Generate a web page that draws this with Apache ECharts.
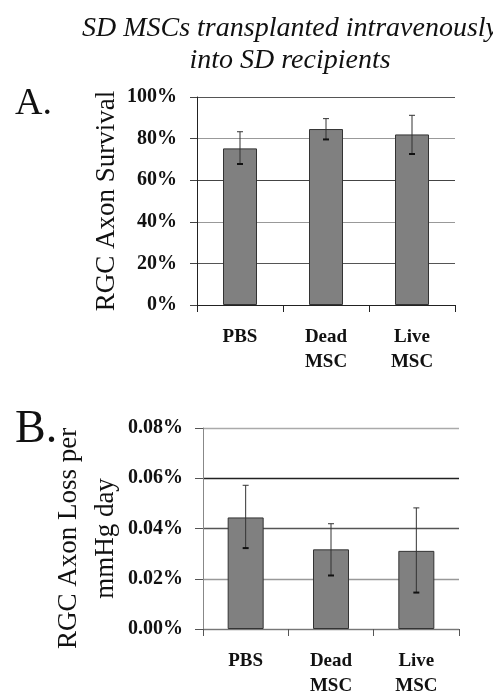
<!DOCTYPE html>
<html>
<head>
<meta charset="utf-8">
<style>
  html, body { margin: 0; padding: 0; background: #fff; }
  #chart { width: 493px; height: 699px; }
</style>
<script src="https://cdn.jsdelivr.net/npm/echarts@6/dist/echarts.min.js"></script>
</head>
<body>
<div id="chart"></div>
<script>
// ---- Data ----
const categories = ['PBS', 'Dead\nMSC', 'Live\nMSC'];
// Panel A: RGC axon survival (%)
const survivalMean = [75.3, 84.6, 82.0];
const survivalLow  = [67.8, 79.6, 72.6];
const survivalHigh = [83.3, 89.6, 91.2];
const survivalTicks = [0, 20, 40, 60, 80, 100];
// Panel B: RGC axon loss per mmHg day (%)
const lossMean = [0.0444, 0.0317, 0.0311];
const lossLow  = [0.0322, 0.0213, 0.0145];
const lossHigh = [0.0572, 0.0419, 0.0482];
const lossTicks = [0, 0.02, 0.04, 0.06, 0.08];

const titleLines = ['SD MSCs transplanted intravenously', 'into SD recipients'];
const panelLabels = ['A.', 'B.'];
const yNameA = 'RGC Axon Survival';
const yNameB = 'RGC Axon Loss per\nmmHg day';

const SERIF = 'Liberation Serif';

function errorSeries(idx, low, high) {
  return {
    type: 'custom',
    xAxisIndex: idx, yAxisIndex: idx,
    z: 5,
    data: categories.map((c, i) => [i, low[i], high[i]]),
    encode: { x: 0, y: [1, 2] },
    renderItem: function (params, api) {
      const x = api.value(0);
      const lo = api.coord([x, api.value(1)]);
      const hi = api.coord([x, api.value(2)]);
      const cap = 3;
      const style = { stroke: '#333', lineWidth: 1 };
      return {
        type: 'group',
        children: [
          { type: 'line', shape: { x1: lo[0], y1: lo[1], x2: hi[0], y2: hi[1] }, style: style },
          { type: 'line', shape: { x1: hi[0] - cap, y1: hi[1], x2: hi[0] + cap, y2: hi[1] }, style: style },
          { type: 'line', shape: { x1: lo[0] - cap, y1: lo[1], x2: lo[0] + cap, y2: lo[1] }, style: { stroke: '#111', lineWidth: 2 } }
        ]
      };
    }
  };
}

const chart = echarts.init(document.getElementById('chart'), null, { renderer: 'canvas' });

const xAxisCommon = {
  type: 'category',
  data: categories,
  boundaryGap: true,
  axisTick: { show: true, alignWithLabel: false, length: 7, inside: false, lineStyle: { color: '#222' } },
  axisLabel: {
    fontFamily: SERIF, fontWeight: 'bold', fontSize: 19, color: '#111',
    lineHeight: 25, margin: 20, interval: 0
  },
  splitLine: { show: false }
};

const option = {
  backgroundColor: '#fff',
  animation: false,
  title: [
    {
      text: titleLines.join('\n'),
      left: 285, top: 8, textAlign: 'center',
      textStyle: { fontFamily: SERIF, fontStyle: 'italic', fontWeight: 'normal', fontSize: 28, lineHeight: 32, color: '#111' }
    },
    {
      text: panelLabels[0], left: 10, top: 80,
      textStyle: { fontFamily: SERIF, fontWeight: 'normal', fontSize: 38, color: '#111' }
    },
    {
      text: panelLabels[1], left: 10, top: 402,
      textStyle: { fontFamily: SERIF, fontWeight: 'normal', fontSize: 46, color: '#111' }
    }
  ],
  grid: [
    { left: 197, right: 38, top: 97, bottom: 394, containLabel: false },
    { left: 203, right: 34, top: 428, bottom: 62, containLabel: false }
  ],
  xAxis: [
    Object.assign({}, xAxisCommon, {
      gridIndex: 0,
      axisLine: { show: true, lineStyle: { color: '#222', width: 1 } }
    }),
    Object.assign({}, xAxisCommon, {
      gridIndex: 1,
      axisLine: { show: true, lineStyle: { color: '#777', width: 1 } },
      axisTick: { show: true, length: 7, lineStyle: { color: '#555' } }
    })
  ],
  yAxis: [
    {
      type: 'value', gridIndex: 0,
      min: survivalTicks[0], max: survivalTicks[survivalTicks.length - 1], interval: 20,
      name: yNameA, nameLocation: 'middle', nameGap: 77, nameRotate: 90, nameMoveOverlap: false,
      nameTextStyle: { fontFamily: SERIF, fontSize: 27, color: '#111' },
      axisLine: { show: true, lineStyle: { color: '#222' } },
      axisTick: { show: true, length: 7, lineStyle: { color: '#444' } },
      axisLabel: {
        fontFamily: SERIF, fontWeight: 'bold', fontSize: 20, color: '#111', margin: 20,
        formatter: v => v + '%'
      },
      splitLine: { show: true, lineStyle: { color: ['#222', '#555', '#999', '#444', '#999', '#555'], width: 1 } }
    },
    {
      type: 'value', gridIndex: 1,
      min: lossTicks[0], max: lossTicks[lossTicks.length - 1], interval: 0.02,
      name: yNameB, nameLocation: 'middle', nameGap: 79, nameRotate: 90, nameMoveOverlap: false,
      nameTextStyle: { fontFamily: SERIF, fontSize: 27, lineHeight: 37, color: '#111', padding: [0, 20, 0, 0] },
      axisLine: { show: true, lineStyle: { color: '#888' } },
      axisTick: { show: true, length: 8, lineStyle: { color: '#555' } },
      axisLabel: {
        fontFamily: SERIF, fontWeight: 'bold', fontSize: 20, color: '#111', margin: 20,
        formatter: v => v.toFixed(2) + '%'
      },
      splitLine: { show: true, lineStyle: { color: ['#888', '#999', '#555', '#222', '#aaa'], width: 1.3 } }
    }
  ],
  series: [
    {
      type: 'bar', xAxisIndex: 0, yAxisIndex: 0,
      data: survivalMean, barWidth: 34,
      itemStyle: { color: '#808080', borderColor: '#333', borderWidth: 1 }
    },
    errorSeries(0, survivalLow, survivalHigh),
    {
      type: 'bar', xAxisIndex: 1, yAxisIndex: 1,
      data: lossMean, barWidth: 36,
      itemStyle: { color: '#808080', borderColor: '#333', borderWidth: 1 }
    },
    errorSeries(1, lossLow, lossHigh)
  ]
};

chart.setOption(option);
</script>
</body>
</html>
